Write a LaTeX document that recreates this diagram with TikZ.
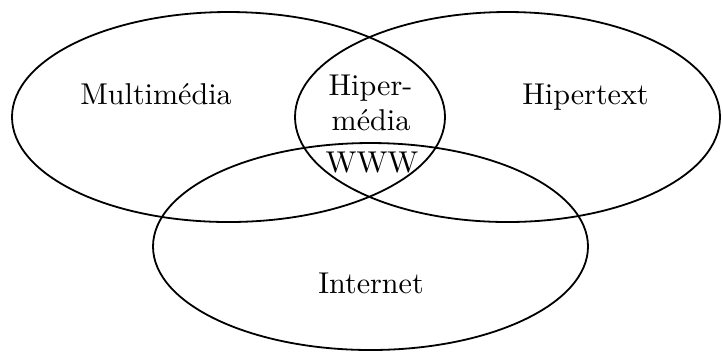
\documentclass[tikz,border=0pt]{standalone}
\usetikzlibrary{shapes.geometric}
\tikzset{
  setline/.style={line width=0.6pt},
  setlabel/.style={inner sep=0pt, anchor=base, font=\fontsize{10}{12}\selectfont}
}
\begin{document}
\begin{tikzpicture}[x=0.3322pt,y=-0.3322pt]
  \useasboundingbox (0,0) rectangle (723,351);
  % three overlapping sets
  \draw[setline] (228.5,117) ellipse [x radius=71.92pt, y radius=34.88pt];
  \draw[setline] (507.5,117) ellipse [x radius=70.59pt, y radius=34.88pt];
  \draw[setline] (370.5,246.5) ellipse [x radius=72.25pt, y radius=34.38pt];
  % labels
  \node[setlabel] (multi) at (156,104) {Multimédia};
  \node[setlabel] (hiper) at (585.5,104) {Hipertext};
  \node[setlabel] (hm1) at (370.5,95) {Hiper-};
  \node[setlabel] (hm2) at (371,130) {média};
  \node[setlabel] (www) at (372,172) {WWW};
  \node[setlabel] (inet) at (371,293) {Internet};
\end{tikzpicture}
\end{document}
